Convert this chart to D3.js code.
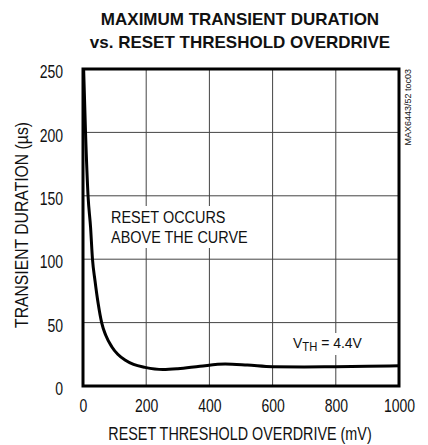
<!DOCTYPE html>
<html>
<head>
<meta charset="utf-8">
<script src="https://cdn.jsdelivr.net/npm/d3@7"></script>
<style>
  body { margin: 0; background: #fff; }
  text { font-family: "Liberation Sans", Arial, sans-serif; fill: #111; }
</style>
</head>
<body>
<svg id="chart" width="428" height="445"></svg>
<script>
// curve: overdrive (mV) -> transient duration (us)
const overdrive = [2, 8, 16, 24, 30, 38, 48, 59, 72, 91, 110, 133, 160, 196, 253, 300, 370, 450, 520, 600, 700, 800, 900, 1000];
const duration  = [250, 200, 150, 125, 100, 83, 65, 50, 40, 31, 25, 20.5, 17, 14.7, 13, 13.6, 15.5, 17.3, 16.5, 15.2, 15, 15.2, 15.5, 16];
const xTicks = [0, 200, 400, 600, 800, 1000];
const yTicks = [0, 50, 100, 150, 200, 250];

const svg = d3.select("#chart");
const m = { top: 69, right: 29, bottom: 59, left: 83 };
const W = 428, H = 445;
const iw = W - m.left - m.right;
const ih = H - m.top - m.bottom;

const x = d3.scaleLinear().domain([0, 1000]).range([0, iw]);
const y = d3.scaleLinear().domain([0, 250]).range([ih, 0]);

// condensed-looking text: the narrow face is not installed, so squeeze horizontally
function stext(parent, px, py, str, size, sx, anchor = "start", rot = 0) {
	const gg = parent.append("g").attr("transform", `translate(${px}, ${py}) rotate(${rot}) scale(${sx}, 1)`);
	return gg.append("text").attr("font-size", size + "px").attr("text-anchor", anchor).text(str);
}

// title
stext(svg, 240, 25, "MAXIMUM TRANSIENT DURATION", 17, 1, "middle").attr("font-weight", "bold");
stext(svg, 240, 48, "vs. RESET THRESHOLD OVERDRIVE", 17, 1, "middle").attr("font-weight", "bold");

const g = svg.append("g").attr("transform", `translate(${m.left}, ${m.top})`);

// grid
g.append("g").selectAll("line").data(xTicks.slice(1, -1)).join("line")
	.attr("x1", d => x(d)).attr("x2", d => x(d)).attr("y1", 0).attr("y2", ih)
	.attr("stroke", "#444").attr("stroke-width", 1);
g.append("g").selectAll("line").data(yTicks.slice(1, -1)).join("line")
	.attr("y1", d => y(d)).attr("y2", d => y(d)).attr("x1", 0).attr("x2", iw)
	.attr("stroke", "#444").attr("stroke-width", 1);

// annotations, white box behind them hides the grid
const notes = g.append("g");
notes.append("rect").attr("x", 108 - m.left).attr("y", 206 - m.top).attr("width", 122).attr("height", 42).attr("fill", "#fff");
stext(notes, 111 - m.left, 223 - m.top, "RESET OCCURS", 17, 0.85);
stext(notes, 111 - m.left, 243 - m.top, "ABOVE THE CURVE", 17, 0.85);

notes.append("rect").attr("x", 290 - m.left).attr("y", 333 - m.top).attr("width", 77).attr("height", 22).attr("fill", "#fff");
const vt = stext(notes, 293 - m.left, 348 - m.top, "", 15.5, 0.9);
vt.append("tspan").text("V");
vt.append("tspan").attr("font-size", "12.5px").attr("dy", 3).text("TH");
vt.append("tspan").attr("dy", -3).text(" = 4.4V");

// curve
const line = d3.line()
	.x((d, i) => x(overdrive[i]))
	.y(d => y(d))
	.curve(d3.curveMonotoneX);
g.append("path").datum(duration).attr("d", line)
	.attr("fill", "none").attr("stroke", "#000").attr("stroke-width", 3).attr("stroke-linejoin", "round");

// frame
g.append("rect").attr("width", iw).attr("height", ih)
	.attr("fill", "none").attr("stroke", "#000").attr("stroke-width", 3);

// axes (labels only)
const xAxis = g.append("g").attr("transform", `translate(0, ${ih})`)
	.call(d3.axisBottom(x).tickValues(xTicks).tickSize(0).tickPadding(14).tickFormat(d3.format("d")));
const yAxis = g.append("g")
	.call(d3.axisLeft(y).tickValues(yTicks).tickSize(0).tickFormat(d3.format("d")));
[xAxis, yAxis].forEach(a => {
	a.select(".domain").remove();
	a.selectAll("text").attr("font-size", "17.5px").attr("font-family", null).attr("fill", "#111")
		.attr("transform", "scale(0.8, 1)");
});
yAxis.selectAll("text").attr("x", -25).attr("dy", "0.5em");

// axis titles
stext(svg, 240, 440, "RESET THRESHOLD OVERDRIVE (mV)", 17.5, 0.82, "middle");
stext(svg, 28, 225, "TRANSIENT DURATION (\u00b5s)", 17.5, 0.9, "middle", -90);

// part code
svg.append("text").attr("transform", "translate(411, 69) rotate(-90)").attr("text-anchor", "end")
	.attr("font-size", "9px").text("MAX6443/52 toc03");
</script>
</body>
</html>
